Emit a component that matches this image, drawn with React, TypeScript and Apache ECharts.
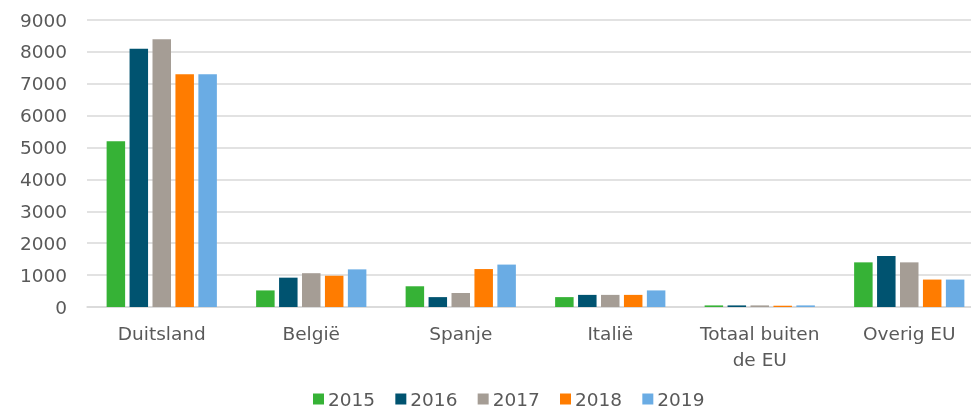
import React, { useEffect, useRef } from "react";
import * as echarts from "echarts";

const categories = ["Duitsland", "België", "Spanje", "Italië", "Totaal buiten\nde EU", "Overig EU"];
const years = ["2015", "2016", "2017", "2018", "2019"];
const s2015 = [5200, 520, 650, 310, 50, 1400];
const s2016 = [8100, 920, 310, 380, 50, 1600];
const s2017 = [8400, 1060, 440, 380, 50, 1400];
const s2018 = [7300, 980, 1190, 380, 40, 860];
const s2019 = [7300, 1180, 1330, 520, 50, 860];
const seriesData = [s2015, s2016, s2017, s2018, s2019];
const colors = ["#36B236", "#005370", "#A59D95", "#FF7C00", "#6AACE4"];

export default function App() {
  const ref = useRef<HTMLDivElement>(null);
  useEffect(() => {
    if (!ref.current) return;
    const chart = echarts.init(ref.current, undefined, { renderer: "svg" });
    const font = "DejaVu Sans";
    chart.setOption({
      animation: false,
      textStyle: { fontFamily: font },
      grid: { left: 87, width: 897, top: 20, bottom: 101, outerBoundsMode: "none", containLabel: false },
      legend: {
        data: years,
        left: 313,
        top: 389.5,
        padding: 0,
        itemWidth: 11,
        itemHeight: 11,
        itemGap: 20.25,
        icon: "rect",
        textStyle: { color: "#595959", fontSize: 18.5, lineHeight: 14, fontFamily: font, padding: [0, 0, 0, -1] },
      },
      xAxis: {
        type: "category",
        data: categories,
        axisLine: { show: true, lineStyle: { color: "#D9D9D9", width: 1.5 } },
        axisTick: { show: false },
        axisLabel: { interval: 0, color: "#595959", fontSize: 18.5, margin: 13, lineHeight: 26, fontFamily: font },
      },
      yAxis: {
        type: "value",
        min: 0,
        max: 9000,
        interval: 1000,
        axisLine: { show: false },
        axisTick: { show: false },
        splitLine: { lineStyle: { color: "#D9D9D9", width: 1.5 } },
        axisLabel: { color: "#595959", fontSize: 18.5, margin: 20, fontFamily: font, formatter: (v: number) => String(v) },
      },
      series: years.map((y, i) => ({
        name: y,
        type: "bar",
        data: seriesData[i],
        barWidth: 18.5,
        barGap: "24%",
        itemStyle: { color: colors[i] },
      })),
    });
    return () => chart.dispose();
  }, []);
  return <div ref={ref} style={{ position: "fixed", left: 0, top: 0, width: 971, height: 408 }} />;
}
